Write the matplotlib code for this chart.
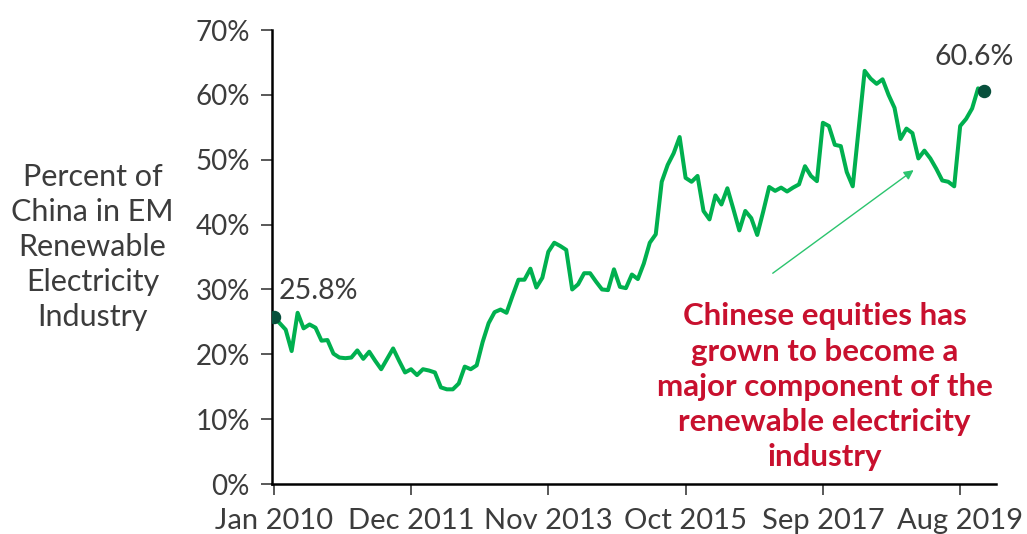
import numpy as np
import matplotlib
matplotlib.use("Agg")
import matplotlib.pyplot as plt

# monthly share of China in EM renewable electricity industry, Jan 2010 - Dec 2019 (%)
share = [
    25.8, 24.8, 23.8, 20.5, 26.4, 24.0, 24.6, 24.1, 22.1, 22.2,
    20.1, 19.5, 19.4, 19.5, 20.6, 19.3, 20.4, 19.0, 17.7, 19.3,
    20.9, 19.0, 17.2, 17.7, 16.8, 17.7, 17.5, 17.2, 14.9, 14.6,
    14.6, 15.5, 18.1, 17.7, 18.3, 21.9, 24.8, 26.5, 26.9, 26.4,
    29.0, 31.5, 31.5, 33.2, 30.3, 31.8, 35.8, 37.2, 36.7, 36.1,
    30.0, 30.8, 32.5, 32.5, 31.2, 30.0, 29.9, 33.1, 30.4, 30.2,
    32.3, 31.6, 34.0, 37.2, 38.5, 46.6, 49.2, 51.0, 53.5, 47.2,
    46.6, 47.5, 42.1, 40.8, 44.5, 43.1, 45.6, 42.4, 39.1, 42.1,
    41.0, 38.4, 42.0, 45.8, 45.2, 45.7, 45.1, 45.7, 46.2, 49.0,
    47.5, 46.7, 55.7, 55.2, 52.3, 52.1, 48.1, 45.9, 54.8, 63.7,
    62.5, 61.7, 62.4, 60.0, 58.0, 53.2, 54.8, 54.1, 50.2, 51.4,
    50.2, 48.6, 46.8, 46.6, 45.9, 55.2, 56.3, 57.9, 61.0, 60.6,
]
tick_pos = [0, 23, 46, 69, 92, 115]
tick_labels = ["Jan 2010", "Dec 2011", "Nov 2013", "Oct 2015", "Sep 2017", "Aug 2019"]
y_ticks = [0, 10, 20, 30, 40, 50, 60, 70]
note = "Chinese equities has\ngrown to become a\nmajor component of the\nrenewable electricity\nindustry"

plt.rcParams['font.family'] = ['Lato', 'DejaVu Sans']
txt = '#3c3c3c'

fig = plt.figure(figsize=(10.27, 5.34), dpi=100)
ax = fig.add_axes([0.2648, 0.0936, 0.705, 0.8502])

x = np.arange(len(share))
ax.plot(x, share, color='#00b04f', lw=2.9, zorder=3)
ax.scatter([x[0], x[-1]], [share[0], share[-1]], s=75, color='#08503c', zorder=4)

ax.text(x[0] + 0.8, share[0] + 1.9, "25.8%", fontsize=20.5, color=txt,
        ha='left', va='bottom')
ax.text(117.4, 65.8, "60.6%", fontsize=20.5, color=txt,
        ha='center', va='center')

ax.annotate("", xy=(107.2, 48.4), xytext=(83.6, 32.5),
            arrowprops=dict(arrowstyle='-|>', color='#2bc46e', lw=1.0,
                            mutation_scale=14, shrinkA=0, shrinkB=0))
ax.text(92.3, 28.0, note, fontsize=22.5, fontweight='bold', color='#c8102e',
        ha='center', va='top', linespacing=1.31)

ax.set_xlim(-0.3, 121)
ax.set_ylim(0, 70)
ax.set_xticks(tick_pos)
ax.set_xticklabels(tick_labels)
ax.set_yticks(y_ticks)
ax.set_yticklabels([f"{v}%" for v in y_ticks])
for sp in ['top', 'right']:
    ax.spines[sp].set_visible(False)
for sp in ['left', 'bottom']:
    ax.spines[sp].set_linewidth(1.8)
ax.tick_params(axis='both', colors=txt, width=1.2, length=8, labelcolor=txt)
ax.tick_params(axis='y', labelsize=20, pad=8)
ax.tick_params(axis='x', labelsize=21, pad=9)

fig.text(0.09, 0.537, "Percent of\nChina in EM\nRenewable\nElectricity\nIndustry",
         fontsize=22, color=txt, ha='center', va='center', linespacing=1.3)

fig.savefig("out.png", dpi=100)
